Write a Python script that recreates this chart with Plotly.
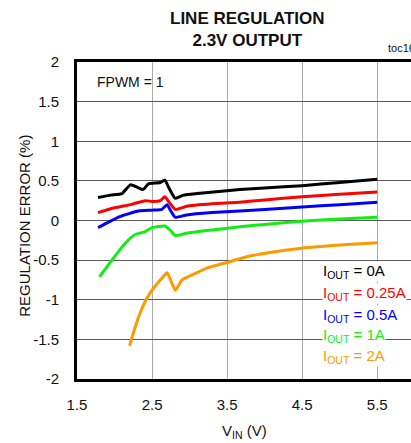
import plotly.graph_objects as go

# Data
vin_0a = [1.78, 1.95, 2.10, 2.21, 2.30, 2.38, 2.45, 2.50, 2.61, 2.67, 2.72, 2.81, 2.92, 3.10, 3.32, 3.67, 4.00, 4.50, 5.00, 5.50]
err_0a = [0.29, 0.32, 0.34, 0.45, 0.42, 0.39, 0.46, 0.47, 0.48, 0.51, 0.42, 0.28, 0.32, 0.34, 0.36, 0.39, 0.41, 0.44, 0.48, 0.52]

vin_025a = [1.78, 2.00, 2.21, 2.41, 2.50, 2.61, 2.67, 2.72, 2.81, 2.96, 3.30, 3.67, 4.00, 4.50, 5.00, 5.50]
err_025a = [0.10, 0.16, 0.20, 0.25, 0.24, 0.25, 0.30, 0.24, 0.14, 0.18, 0.21, 0.23, 0.26, 0.30, 0.33, 0.36]

vin_05a = [1.78, 1.92, 2.07, 2.32, 2.50, 2.63, 2.70, 2.75, 2.81, 2.96, 3.30, 3.67, 4.00, 4.50, 5.00, 5.50]
err_05a = [-0.09, -0.02, 0.05, 0.12, 0.13, 0.14, 0.20, 0.12, 0.04, 0.07, 0.10, 0.12, 0.14, 0.17, 0.20, 0.23]

vin_1a = [1.80, 1.95, 2.07, 2.17, 2.27, 2.41, 2.50, 2.67, 2.74, 2.81, 2.96, 3.30, 3.67, 4.00, 4.50, 5.00, 5.50]
err_1a = [-0.71, -0.52, -0.37, -0.26, -0.18, -0.14, -0.09, -0.07, -0.12, -0.19, -0.16, -0.12, -0.08, -0.05, -0.01, 0.02, 0.04]

vin_2a = [2.20, 2.27, 2.34, 2.42, 2.50, 2.63, 2.70, 2.76, 2.81, 2.90, 3.05, 3.23, 3.50, 3.75, 4.03, 4.49, 5.00, 5.50]
err_2a = [-1.58, -1.36, -1.17, -1.00, -0.88, -0.73, -0.66, -0.78, -0.88, -0.75, -0.68, -0.60, -0.53, -0.46, -0.41, -0.35, -0.31, -0.28]

series = [
    ("0A", vin_0a, err_0a, "#000000"),
    ("0.25A", vin_025a, err_025a, "#FF0000"),
    ("0.5A", vin_05a, err_05a, "#0000FF"),
    ("1A", vin_1a, err_1a, "#11EE11"),
    ("2A", vin_2a, err_2a, "#FF9900"),
]

x_ticks = [1.5, 2.5, 3.5, 4.5, 5.5]
y_ticks = [-2, -1.5, -1, -0.5, 0, 0.5, 1, 1.5, 2]

FONT = "Liberation Sans, Arial, sans-serif"

fig = go.Figure()
for name, xs, ys, col in series:
    fig.add_trace(go.Scatter(x=xs, y=ys, mode="lines", name=name,
                             line=dict(color=col, width=3, shape="spline", smoothing=0.5),
                             showlegend=False))

fig.update_layout(
    width=411, height=443,
    margin=dict(l=77, r=0, t=62, b=64),
    paper_bgcolor="white", plot_bgcolor="white",
    font=dict(family=FONT, size=15, color="#111111"),
    xaxis=dict(range=[1.5, 5.95], tickvals=x_ticks, ticktext=[str(v) for v in x_ticks],
               showgrid=True, gridcolor="#AAAAAA", gridwidth=1,
               showline=True, linecolor="black", linewidth=3, mirror=True,
               ticks="", zeroline=False, ticklabelstandoff=10),
    yaxis=dict(range=[-2, 2], tickvals=y_ticks, ticktext=[f"{v:g}" for v in y_ticks],
               showgrid=True, gridcolor="#5A5A5A", gridwidth=1,
               showline=True, linecolor="black", linewidth=3, mirror=False,
               ticks="", zeroline=False, ticklabelstandoff=12),
)

fig.add_annotation(text="REGULATION ERROR (%)", x=-0.156, y=0.483, textangle=-90,
                   xref="paper", yref="paper", xanchor="center", yanchor="middle",
                   showarrow=False, font=dict(size=15, color="#111111"))
fig.add_annotation(text="V<sub>IN</sub> (V)", x=0.5, y=-0.167,
                   xref="paper", yref="paper", xanchor="center", yanchor="middle",
                   showarrow=False, font=dict(size=15, color="#111111"))
fig.add_annotation(text="<b>LINE REGULATION</b><br><b>2.3V OUTPUT</b>", x=0.51, y=1.104,
                   xref="paper", yref="paper", yanchor="middle", xanchor="center",
                   showarrow=False, font=dict(size=17, color="#111111"))
fig.add_annotation(text="toc16", x=0.925, y=1.044, xref="paper", yref="paper",
                   xanchor="left", yanchor="middle", showarrow=False,
                   font=dict(size=11, color="#111111"))
fig.add_annotation(text="FPWM = 1", x=0.054, y=0.937, xref="paper", yref="paper",
                   xanchor="left", yanchor="middle", showarrow=False,
                   font=dict(size=14, color="#111111"))

leg_y = [0.338, 0.270, 0.201, 0.138, 0.070]
for (name, xs, ys, col), ly in zip(series, leg_y):
    fig.add_annotation(text=f"I<sub>OUT</sub> = {name}", x=0.734, y=ly,
                       xref="paper", yref="paper", xanchor="left", yanchor="middle",
                       showarrow=False, bgcolor="white", borderpad=0,
                       font=dict(size=15, color=col))

fig.write_html("out.html")
